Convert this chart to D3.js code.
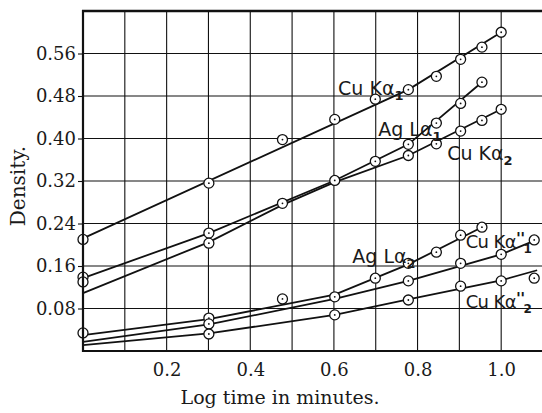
<!DOCTYPE html>
<html>
<head>
<meta charset="utf-8">
<script src="https://cdn.jsdelivr.net/npm/d3@7"></script>
<style>
  body { margin: 0; background: #fff; }
  text { fill: #1a1a1a; }
</style>
</head>
<body>
<script>
// log10 of exposure time, 1 ... 12 minutes
let logTime = [0, 0.301, 0.477, 0.602, 0.699, 0.778, 0.845, 0.903, 0.954, 1.0, 1.041, 1.079];

// measured densities (null = no point plotted)
let cuKa1   = [0.210, 0.316, 0.398, 0.436, 0.474, 0.492, 0.517, 0.549, 0.572, 0.600, null, null];
let agLa1   = [0.139, 0.222, 0.278, 0.321, 0.357, 0.389, 0.429, 0.466, 0.506, null, null, null];
let cuKa2   = [0.130, 0.203, null, null, null, 0.368, 0.390, 0.414, 0.434, 0.455, null, null];
let agLa2   = [0.034, 0.062, 0.098, 0.102, 0.137, 0.165, 0.186, 0.218, 0.233, null, null, null];
let cuKa1dd = [null, 0.051, null, null, null, 0.132, null, 0.165, null, 0.182, null, 0.209];
let cuKa2dd = [null, 0.032, null, 0.068, null, 0.096, null, 0.122, null, 0.132, null, 0.137];

// drawn curves [log time, density]
let fitCuKa1   = [[0, 0.212], [0.778, 0.492], [1.0, 0.600]];
let fitAgLa1   = [[0, 0.137], [0.301, 0.222], [0.602, 0.321], [0.778, 0.389], [0.954, 0.506]];
let fitCuKa2   = [[0, 0.109], [0.301, 0.205], [0.477, 0.275], [0.602, 0.318], [0.778, 0.368], [1.0, 0.455]];
let fitAgLa2   = [[0, 0.030], [0.301, 0.060], [0.602, 0.106], [0.778, 0.163], [0.954, 0.233]];
let fitCuKa1dd = [[0, 0.017], [0.301, 0.050], [0.602, 0.098], [0.778, 0.132], [1.0, 0.182], [1.09, 0.211]];
let fitCuKa2dd = [[0, 0.011], [0.301, 0.033], [0.602, 0.068], [0.778, 0.097], [1.0, 0.133], [1.086, 0.152]];

let xTicks = [0.2, 0.4, 0.6, 0.8, 1.0];
let yTicks = [0.08, 0.16, 0.24, 0.32, 0.40, 0.48, 0.56];

let series = [
  { name: "Cu Kα", sub: "1", prime: "",   pts: cuKa1,   fit: fitCuKa1,   lx: 0.610, ly: 0.481 },
  { name: "Ag Lα", sub: "1", prime: "",   pts: agLa1,   fit: fitAgLa1,   lx: 0.706, ly: 0.404 },
  { name: "Cu Kα", sub: "2", prime: "",   pts: cuKa2,   fit: fitCuKa2,   lx: 0.871, ly: 0.359 },
  { name: "Ag Lα", sub: "2", prime: "",   pts: agLa2,   fit: fitAgLa2,   lx: 0.644, ly: 0.165 },
  { name: "Cu Kα", sub: "1", prime: "''", pts: cuKa1dd, fit: fitCuKa1dd, lx: 0.915, ly: 0.194 },
  { name: "Cu Kα", sub: "2", prime: "''", pts: cuKa2dd, fit: fitCuKa2dd, lx: 0.915, ly: 0.081 }
];

let svgWidth = 542,
    svgHeight = 413;

let svg = d3.select("body").append("svg")
  .attr("width", svgWidth)
  .attr("height", svgHeight);

let x = d3.scaleLinear().domain([0, 1.1]).range([83, 543]);
let y = d3.scaleLinear().domain([0, 0.64]).range([351, 11]);

// grid
svg.append("g").selectAll("line")
  .data(d3.range(1, 11).map(i => i / 10))
  .enter().append("line")
  .attr("x1", d => x(d)).attr("x2", d => x(d))
  .attr("y1", y(0)).attr("y2", y(0.64))
  .attr("stroke", "#111").attr("stroke-width", 1.1);

svg.append("g").selectAll("line")
  .data(yTicks)
  .enter().append("line")
  .attr("x1", x(0)).attr("x2", svgWidth)
  .attr("y1", d => y(d)).attr("y2", d => y(d))
  .attr("stroke", "#111").attr("stroke-width", 1.1);

// axes
let yAxis = svg.append("g")
  .attr("transform", `translate(${x(0)},0)`)
  .call(d3.axisLeft(y).tickValues(yTicks).tickSize(5).tickPadding(2).tickFormat(d3.format(".2f")));
yAxis.select(".domain").remove();
yAxis.selectAll("line").attr("stroke", "#111").attr("stroke-width", 1.1);
yAxis.selectAll("text")
  .style("font-family", "DejaVu Serif").style("font-size", "18px").attr("fill", "#222");

let xAxis = svg.append("g")
  .attr("transform", `translate(0,${y(0)})`)
  .call(d3.axisBottom(x).tickValues(xTicks).tickSize(0).tickPadding(12).tickFormat(d3.format(".1f")));
xAxis.select(".domain").remove();
xAxis.selectAll("text")
  .style("font-family", "DejaVu Serif").style("font-size", "18px").attr("fill", "#222");

svg.append("text")
  .attr("transform", "translate(25,186) rotate(-90)")
  .attr("text-anchor", "middle")
  .style("font-family", "DejaVu Serif").style("font-size", "20px")
  .text("Density.");

svg.append("text")
  .attr("x", 280).attr("y", 404)
  .attr("text-anchor", "middle")
  .style("font-family", "DejaVu Serif").style("font-size", "19px")
  .text("Log time in minutes.");

// curves
let line = d3.line().x(d => x(d[0])).y(d => y(d[1]));
svg.append("g").selectAll("path")
  .data(series)
  .enter().append("path")
  .attr("d", d => line(d.fit))
  .attr("fill", "none")
  .attr("stroke", "#111")
  .attr("stroke-width", 1.8);

// points
series.forEach(s => {
  let pts = logTime.map((t, i) => [t, s.pts[i]]).filter(p => p[1] != null);
  let g = svg.append("g");
  g.selectAll("circle.pt").data(pts).enter().append("circle")
    .attr("class", "pt")
    .attr("cx", d => x(d[0])).attr("cy", d => y(d[1]))
    .attr("r", 5)
    .attr("fill", "#fff").attr("stroke", "#111").attr("stroke-width", 1.3);
  g.selectAll("circle.dot").data(pts).enter().append("circle")
    .attr("class", "dot")
    .attr("cx", d => x(d[0])).attr("cy", d => y(d[1]))
    .attr("r", 0.9).attr("fill", "#111");
});

// labels
series.forEach(s => {
  let t = svg.append("text")
    .attr("x", x(s.lx)).attr("y", y(s.ly))
    .style("font-family", "DejaVu Sans")
    .style("font-size", s.prime ? "18px" : "19px")
    .style("letter-spacing", s.prime ? "-0.6px" : "0px");
  t.append("tspan").text(s.name);
  if (s.prime) {
    t.append("tspan").attr("dy", -4).style("font-size", "16px").style("font-weight", "bold").text(s.prime);
    t.append("tspan").attr("dx", -1).attr("dy", 9).style("font-size", "12px").style("font-weight", "bold").text(s.sub);
  } else {
    t.append("tspan").attr("dy", 5).style("font-size", "13px").style("font-weight", "bold").text(s.sub);
  }
});

// frame
svg.append("line").attr("x1", x(0)).attr("x2", x(0)).attr("y1", y(0.64) - 1).attr("y2", y(0) + 1)
  .attr("stroke", "#111").attr("stroke-width", 2.2);
svg.append("line").attr("x1", x(0) - 1).attr("x2", svgWidth).attr("y1", y(0.64)).attr("y2", y(0.64))
  .attr("stroke", "#111").attr("stroke-width", 2.6);
svg.append("line").attr("x1", x(0) - 1).attr("x2", svgWidth).attr("y1", y(0)).attr("y2", y(0))
  .attr("stroke", "#111").attr("stroke-width", 2.2);
</script>
</body>
</html>
